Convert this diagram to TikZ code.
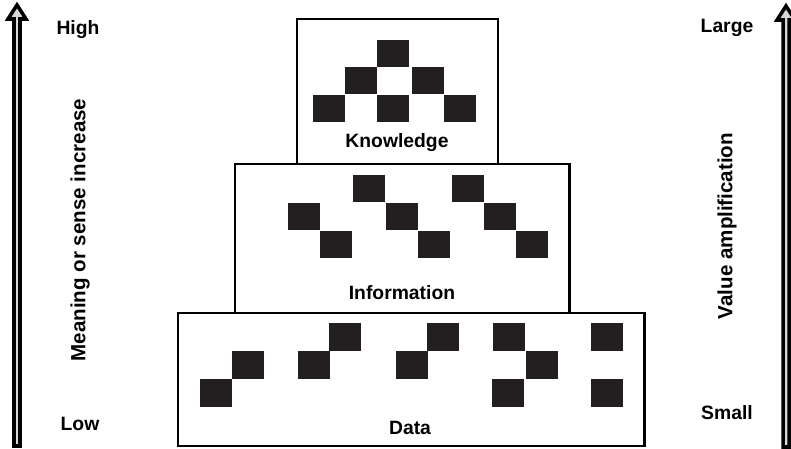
\documentclass[tikz,border=0pt]{standalone}
\usepackage{fontspec}
\setmainfont{Liberation Sans}
\definecolor{blockgray}{RGB}{35,31,32}
\definecolor{shaftgray}{RGB}{215,215,215}
\tikzset{
	lbl/.style={font=\fontsize{11}{13}\selectfont\bfseries, inner sep=0pt},
	sidelbl/.style={font=\fontsize{11.7}{14}\selectfont\bfseries, inner sep=0pt, rotate=90},
	layer/.style={draw, line width=1.7pt},
	blk/.style={fill=blockgray},
	bigarrow/.style={draw, line width=2pt, fill=shaftgray, line join=miter}
}
\begin{document}
\begin{tikzpicture}[x=0.02cm, y=-0.02cm]
	\useasboundingbox (0,0) rectangle (791,449);

	% layers
	\draw[layer] (297,19) rectangle (498,164);
	\draw[layer] (235,164) rectangle (569,313);
	\draw[layer] (178,313) rectangle (644,446);

	% knowledge blocks
	\foreach \x/\y in {377/40, 345/67, 412/67, 313/95, 377/95, 444/95}
		\fill[blk] (\x,\y) rectangle ++(32,27);

	% information blocks
	\foreach \x/\y in {353/175, 452/175, 288/203, 386/203, 484/203, 320/231, 418/231, 516/231}
		\fill[blk] (\x,\y) rectangle ++(32,27);

	% data blocks
	\foreach \x/\y in {329/323, 427/323, 493/323, 591/323, 232/351, 298/351, 396/351, 526/351, 200/379, 492/379, 591/379}
		\fill[blk] (\x,\y) rectangle ++(32,28);

	% layer names
	\node[lbl] (knowledge) at (397,143) {Knowledge};
	\node[lbl] (information) at (402,293) {Information};
	\node[lbl] (data) at (410,428) {Data};

	% meaning axis
	\path[bigarrow] (14,446) -- (14,19) -- (8,19) -- (17,5) -- (26,19) -- (20,19) -- (20,446) -- cycle;
	\node[lbl] (high) at (78,30) {High};
	\node[lbl] (low) at (80,424) {Low};
	\node[sidelbl] (meaning) at (80,230) {Meaning or sense increase};

	% value axis
	\path[bigarrow] (783,447) -- (783,20) -- (777,20) -- (786,6) -- (795,20) -- (789,20) -- (789,447) -- cycle;
	\node[lbl] (large) at (727,28) {Large};
	\node[lbl] (small) at (727,413) {Small};
	\node[sidelbl] (value) at (727,226) {Value amplification};

\end{tikzpicture}
\end{document}
